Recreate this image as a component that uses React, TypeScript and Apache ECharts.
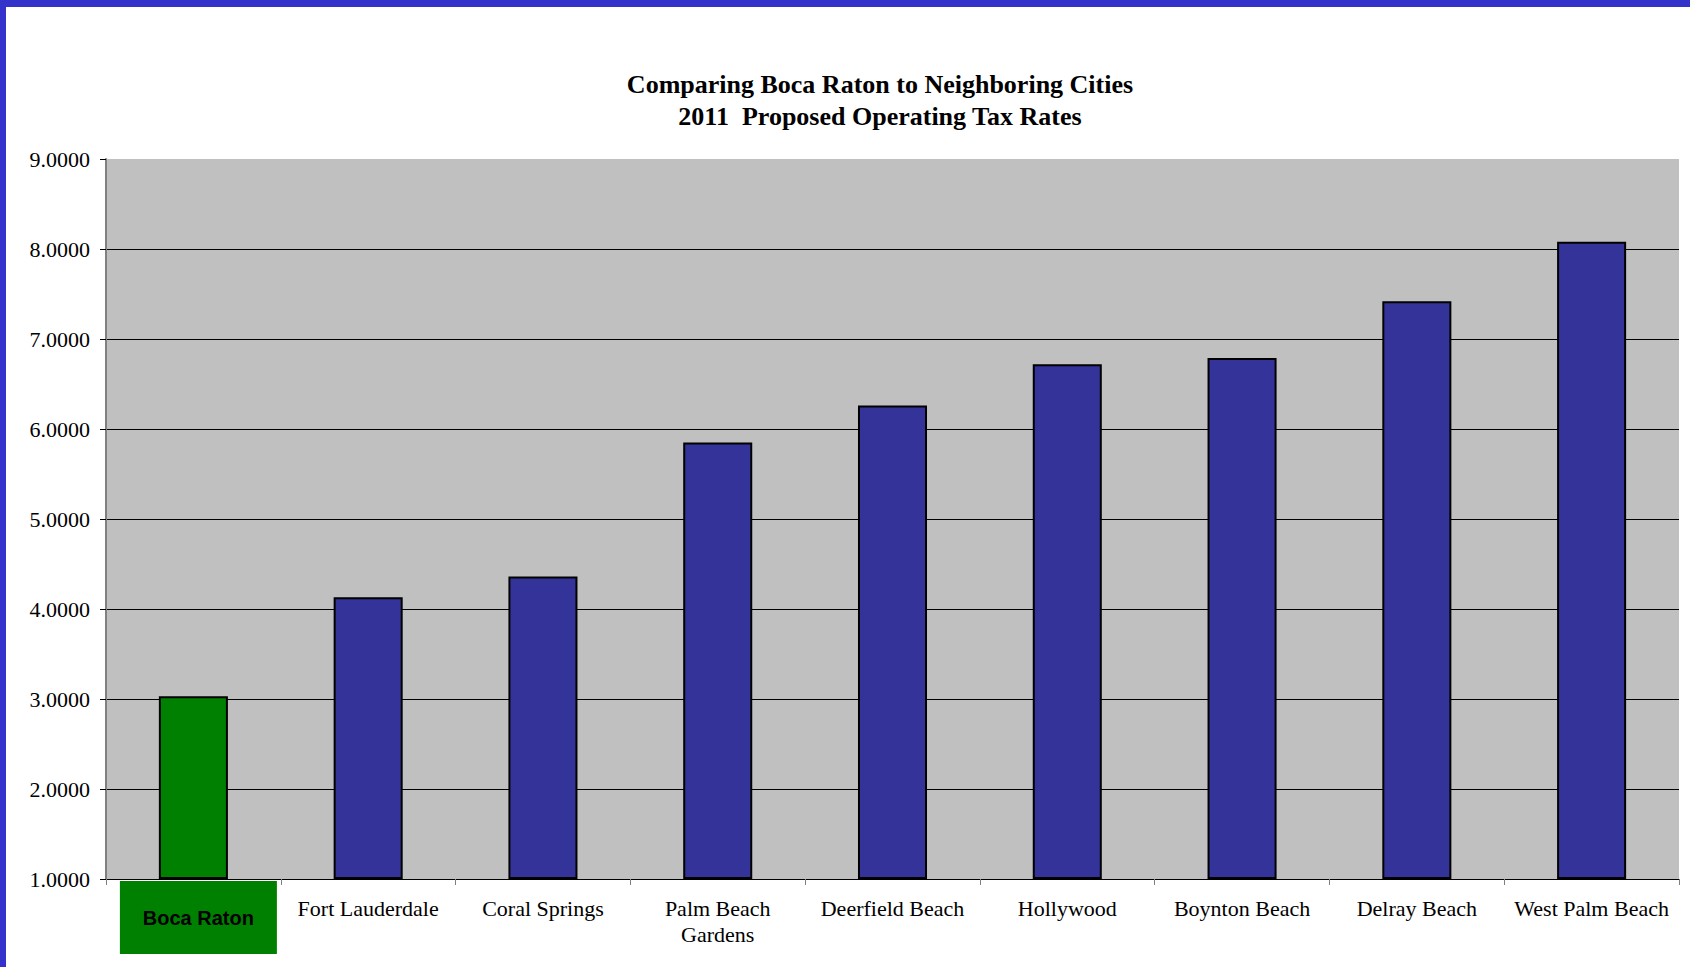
import React, { useEffect, useRef } from "react";
import * as echarts from "echarts";

const titleLines = ["Comparing Boca Raton to Neighboring Cities", "2011  Proposed Operating Tax Rates"];
const categories = [
  "Boca Raton",
  "Fort Lauderdale",
  "Coral Springs",
  "Palm Beach\nGardens",
  "Deerfield Beach",
  "Hollywood",
  "Boynton Beach",
  "Delray Beach",
  "West Palm Beach",
];
const taxRates = [3.03, 4.13, 4.36, 5.85, 6.26, 6.72, 6.79, 7.42, 8.08];
const highlighted = "Boca Raton";
const yMin = 1;
const yMax = 9;
const yStep = 1;

export default function App() {
  const ref = useRef<HTMLDivElement>(null);
  useEffect(() => {
    if (!ref.current) return;
    const chart = echarts.init(ref.current, null, { renderer: "svg" });
    const serif = "'Liberation Serif', 'Times New Roman', serif";
    chart.setOption({
      animation: false,
      backgroundColor: "#ffffff",
      title: {
        text: titleLines.join("\n"),
        left: 875,
        top: 63,
        textAlign: "center",
        textStyle: {
          fontFamily: serif,
          fontSize: 26,
          fontWeight: "bold",
          color: "#000",
          lineHeight: 32,
        },
      },
      graphic: [
        { type: "rect", shape: { x: 0, y: 0, width: 1690, height: 7 }, style: { fill: "#3333cc" }, z: 100 },
        { type: "rect", shape: { x: 0, y: 0, width: 6, height: 967 }, style: { fill: "#3333cc" }, z: 100 },
      ],
      grid: {
        left: 106,
        right: 11,
        top: 159,
        bottom: 88,
        show: true,
        backgroundColor: "#c0c0c0",
        borderWidth: 0,
      },
      xAxis: {
        type: "category",
        data: categories.map((c) =>
          c === highlighted ? { value: c, textStyle: { padding: [0, 0, 0, 0] } } : c
        ),
        axisLine: { show: true, lineStyle: { color: "#000", width: 1 } },
        axisTick: { show: true, length: 6, lineStyle: { color: "#808080", width: 1 } },
        axisLabel: {
          interval: 0,
          margin: 2,
          padding: [14, 0, 0, 0],
          fontFamily: serif,
          fontSize: 22,
          lineHeight: 26,
          color: "#000",
          formatter: (v: string) => (v === highlighted ? `{gap| }{boca|${v}}` : v),
          rich: {
            gap: { width: 10, fontSize: 10, lineHeight: 73 },
            boca: {
              fontFamily: "'Liberation Sans', Arial, sans-serif",
              fontWeight: "bold",
              fontSize: 20,
              color: "#000",
              backgroundColor: "#008000",
              width: 157,
              height: 73,
              lineHeight: 73,
              align: "center",
            },
          },
        },
        splitLine: { show: false },
      },
      yAxis: {
        type: "value",
        min: yMin,
        max: yMax,
        interval: yStep,
        startValue: yMin,
        axisLine: { show: true, lineStyle: { color: "#808080", width: 2 } },
        axisTick: { show: true, length: 6, lineStyle: { color: "#000", width: 1 } },
        axisLabel: {
          margin: 16,
          fontFamily: serif,
          fontSize: 22,
          color: "#000",
          formatter: (v: number) => v.toFixed(4),
        },
        splitLine: {
          show: true,
          showMaxLine: false,
          showMinLine: false,
          lineStyle: { color: "#000", width: 1 },
        },
      },
      series: [
        {
          type: "bar",
          barWidth: "39.5%",
          data: taxRates.map((v, i) => ({
            value: v,
            itemStyle: { color: categories[i] === highlighted ? "#008000" : "#333399" },
          })),
          itemStyle: { borderColor: "#000", borderWidth: 2 },
        },
      ],
    });
    return () => chart.dispose();
  }, []);
  return (
    <div
      ref={ref}
      style={{ position: "absolute", left: 0, top: 0, width: 1690, height: 967 }}
    />
  );
}
